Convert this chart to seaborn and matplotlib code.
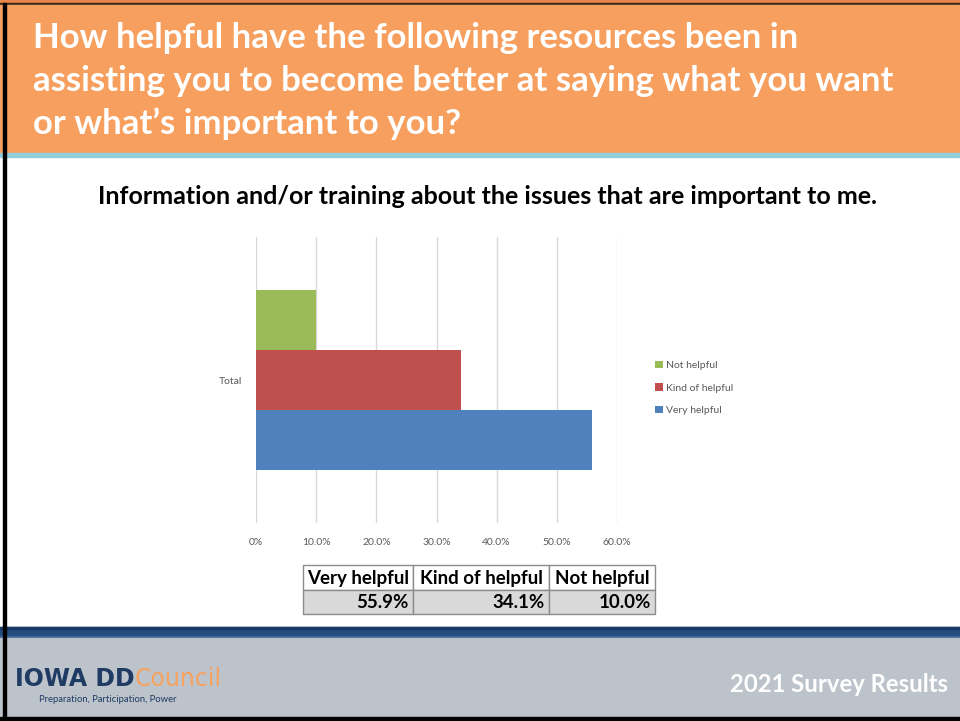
import matplotlib
matplotlib.use("Agg")
import matplotlib.pyplot as plt
from matplotlib.patches import Rectangle
import seaborn as sns
import pandas as pd

# Survey data
category = ["Total"]
responses = ["Very helpful", "Kind of helpful", "Not helpful"]
percent = [55.9, 34.1, 10.0]
tick_values = [0, 10, 20, 30, 40, 50, 60]
tick_labels = ["0%", "10.0%", "20.0%", "30.0%", "40.0%", "50.0%", "60.0%"]

title = ("How helpful have the following resources been in\n"
         "assisting you to become better at saying what you want\n"
         "or what\u2019s important to you?")
subtitle = "Information and/or training about the issues that are important to me."
footer_text = "2021 Survey Results"

colors = {"Very helpful": "#4F81BD", "Kind of helpful": "#C0504D", "Not helpful": "#9BBB59"}
draw_order = ["Not helpful", "Kind of helpful", "Very helpful"]

df = pd.DataFrame({
    "category": category * len(responses),
    "response": responses,
    "percent": percent,
})

sns.set_theme(style="white")
plt.rcParams["font.family"] = ["Lato", "DejaVu Sans"]

W, H = 960, 721
fig = plt.figure(figsize=(W / 100, H / 100), dpi=100)

# Slide background in pixel coordinates
bg = fig.add_axes([0, 0, 1, 1], zorder=0)
bg.set_xlim(0, W)
bg.set_ylim(H, 0)
bg.axis("off")

def rect(x, y, w, h, **kw):
    bg.add_patch(Rectangle((x, y), w, h, **kw))

rect(0, 0, W, H, color="white")
rect(0, 0, W, 4, color="#E9874A")
rect(0, 3, W, 2, color="#3a2a1e")
rect(0, 5, W, 149, color="#F79F5E")
rect(0, 153, W, 4, color="#92CDDC")
rect(0, 627, W, 11, color="#234E82")
rect(0, 627, W, 2, color="#1A3A66")
rect(0, 636, W, 2, color="#3E6598")
rect(0, 638, W, 80, color="#BDC3CA")
rect(0, 717, W, 4, color="black")
rect(3, 3, 3, 716, color="black")

bg.text(33, 81, title, color="white", fontsize=25, fontweight="bold",
        va="center", ha="left", linespacing=1.42)
bg.text(488, 197, subtitle, color="black", fontsize=18, fontweight="bold",
        va="center", ha="center")
bg.text(948, 685, footer_text, color="white", fontsize=17.2, fontweight="bold",
        va="center", ha="right")

# Logo
t1 = bg.text(15, 679, "IOWA DD", color="#1F3B64", fontsize=17, fontweight="bold",
             va="center", ha="left", family=["DejaVu Sans"])
fig.canvas.draw()
bb = t1.get_window_extent()
x_end = bb.x1
bg.text(x_end, 679, "Council", color="#F7A25E", fontsize=17,
        va="center", ha="left", family=["DejaVu Sans"])
bg.text(108, 699, "Preparation, Participation, Power", color="#1F3B64",
        fontsize=6.8, va="center", ha="center")

# Data table under the chart
col_edges = [303, 413, 549, 655]
row_top, row_mid, row_bot = 565, 590, 614
for i, (resp, val) in enumerate(zip(responses, percent)):
    x0, x1 = col_edges[i], col_edges[i + 1]
    rect(x0, row_top, x1 - x0, row_mid - row_top, facecolor="white",
         edgecolor="#8c8c8c", lw=1)
    rect(x0, row_mid, x1 - x0, row_bot - row_mid, facecolor="#D9D9D9",
         edgecolor="#8c8c8c", lw=1)
    bg.text((x0 + x1) / 2, (row_top + row_mid) / 2 + 1, resp, fontsize=13.5,
            fontweight="bold", ha="center", va="center", color="black")
    bg.text(x1 - 4, (row_mid + row_bot) / 2 + 1, f"{val:.1f}%", fontsize=13.5,
            fontweight="bold", ha="right", va="center", color="black")

# Bar chart
ax = fig.add_axes([256 / W, 1 - 523 / H, 361 / W, 286 / H], zorder=1)
ax.patch.set_alpha(0)
sns.barplot(data=df, x="percent", y="category", hue="response",
            hue_order=draw_order, palette=colors, width=0.63,
            saturation=1, linewidth=0, ax=ax, legend=True)
ax.set_xlim(0, 60)
ax.set_xticks(tick_values)
ax.set_xticklabels(tick_labels)
ax.set_xlabel("")
ax.set_ylabel("")
for v in tick_values:
    ax.axvline(v, color="#D9D9D9", lw=1, zorder=0)
for s in ax.spines.values():
    s.set_visible(False)
ax.tick_params(axis="x", length=0, pad=11, labelsize=7.5, labelcolor="#595959")
ax.tick_params(axis="y", length=0, pad=10, labelsize=7.5, labelcolor="#595959")

handles, labels = ax.get_legend_handles_labels()
ax.legend(handles, labels, loc="center left", bbox_to_anchor=(646 / W, 1 - 388 / H),
          bbox_transform=fig.transFigure, frameon=False, fontsize=7.5,
          handlelength=0.7, handleheight=0.7, handletextpad=0.3,
          labelspacing=1.25, labelcolor="#595959")

fig.savefig("out.png", dpi=100)
